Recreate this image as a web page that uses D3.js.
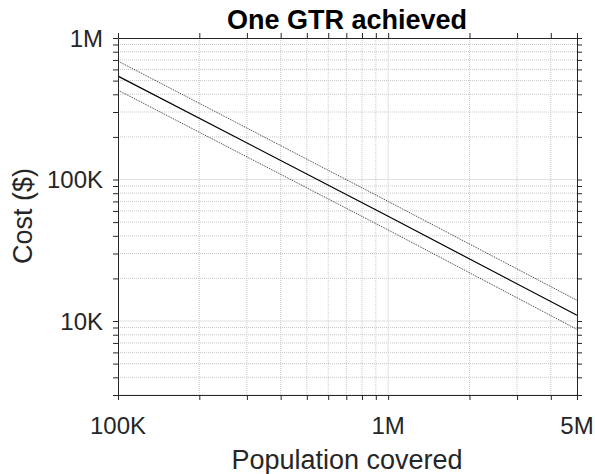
<!DOCTYPE html>
<html><head><meta charset="utf-8">
<script src="https://cdn.jsdelivr.net/npm/d3@7"></script>
<style>body{margin:0;background:#fff}svg{display:block}text{font-family:"Liberation Sans",Arial,sans-serif;fill:#262626}</style>
</head><body><div id="chart"></div>
<script>
const population = [1e5, 1e6, 5e6];
const costMid = [538000, 55000, 10970];
const costUpper = [687000, 70000, 14000];
const costLower = [428000, 44000, 8730];
const xTickValues = [1e5, 1e6, 5e6];
const xTickLabels = ["100K", "1M", "5M"];
const yTickValues = [1e4, 1e5, 1e6];
const yTickLabels = ["10K", "100K", "1M"];

const W = 595, H = 474;
const m = {left: 118, right: 577, top: 38, bottom: 395};
const svg = d3.select("#chart").append("svg").attr("width", W).attr("height", H);
const x = d3.scaleLog().domain([1e5, 5e6]).range([m.left, m.right]);
const y = d3.scaleLog().domain([3000, 1e6]).range([m.bottom, m.top]);

const xMinor = [], yMinor = [];
[1e5, 1e6].forEach(d => { for (let k = 2; k <= 9; k++) if (d * k < 5e6) xMinor.push(d * k); });
[1e3, 1e4, 1e5].forEach(d => { for (let k = 2; k <= 9; k++) { const v = d * k; if (v >= 3000 && v < 1e6) yMinor.push(v); } });

const g = svg.append("g");
// minor grid
g.selectAll(".xm").data(xMinor).join("line").attr("x1", d => x(d)).attr("x2", d => x(d))
  .attr("y1", m.top).attr("y2", m.bottom).attr("stroke", "#c8c8c8").attr("stroke-width", 1).attr("stroke-dasharray", "1,1");
g.selectAll(".ym").data(yMinor).join("line").attr("y1", d => y(d)).attr("y2", d => y(d))
  .attr("x1", m.left).attr("x2", m.right).attr("stroke", "#c8c8c8").attr("stroke-width", 1).attr("stroke-dasharray", "1,1");
// major grid
g.selectAll(".xM").data([1e6]).join("line").attr("x1", d => x(d)).attr("x2", d => x(d))
  .attr("y1", m.top).attr("y2", m.bottom).attr("stroke", "#e0e0e0").attr("stroke-width", 1);
g.selectAll(".yM").data([1e4, 1e5]).join("line").attr("y1", d => y(d)).attr("y2", d => y(d))
  .attr("x1", m.left).attr("x2", m.right).attr("stroke", "#e0e0e0").attr("stroke-width", 1);

// lines
const pts = arr => population.map((p, i) => [p, arr[i]]);
const line = d3.line().x(d => x(d[0])).y(d => y(d[1]));
svg.append("path").datum(pts(costUpper)).attr("d", line).attr("fill", "none").attr("stroke", "#000").attr("stroke-width", 0.8).attr("stroke-dasharray", "1,1");
svg.append("path").datum(pts(costLower)).attr("d", line).attr("fill", "none").attr("stroke", "#000").attr("stroke-width", 0.8).attr("stroke-dasharray", "1,1");
svg.append("path").datum(pts(costMid)).attr("d", line).attr("fill", "none").attr("stroke", "#000").attr("stroke-width", 1.2);

// axes
const allX = xTickValues.concat(xMinor), allY = yTickValues.concat(yMinor);
const axStyle = sel => { sel.select(".domain").attr("stroke", "#262626"); sel.selectAll(".tick line").attr("stroke", "#262626"); sel.selectAll("text").remove(); };
svg.append("g").attr("transform", `translate(0,${m.bottom})`).call(d3.axisBottom(x).tickValues(allX).tickSizeInner(5).tickSizeOuter(0)).call(axStyle);
svg.append("g").attr("transform", `translate(0,${m.top})`).call(d3.axisTop(x).tickValues(allX).tickSizeInner(5).tickSizeOuter(0)).call(axStyle);
svg.append("g").attr("transform", `translate(${m.left},0)`).call(d3.axisLeft(y).tickValues(allY).tickSizeInner(5).tickSizeOuter(0)).call(axStyle);
svg.append("g").attr("transform", `translate(${m.right},0)`).call(d3.axisRight(y).tickValues(allY).tickSizeInner(5).tickSizeOuter(0)).call(axStyle);

// tick labels
svg.selectAll(".xl").data(xTickValues).join("text").attr("x", d => x(d)).attr("y", 434)
  .attr("text-anchor", "middle").attr("font-size", 24).text((d, i) => xTickLabels[i]);
svg.selectAll(".yl").data(yTickValues).join("text").attr("x", 103).attr("y", d => y(d) + 8.5)
  .attr("text-anchor", "end").attr("font-size", 24).text((d, i) => yTickLabels[i]);

svg.append("text").attr("x", 347).attr("y", 29).attr("text-anchor", "middle").attr("font-size", 27)
  .attr("font-weight", "bold").style("fill", "#000").text("One GTR achieved");
svg.append("text").attr("x", 347).attr("y", 469).attr("text-anchor", "middle").attr("font-size", 27).text("Population covered");
svg.append("text").attr("transform", `translate(32,216) rotate(-90)`).attr("text-anchor", "middle").attr("font-size", 27).text("Cost ($)");
</script></body></html>
